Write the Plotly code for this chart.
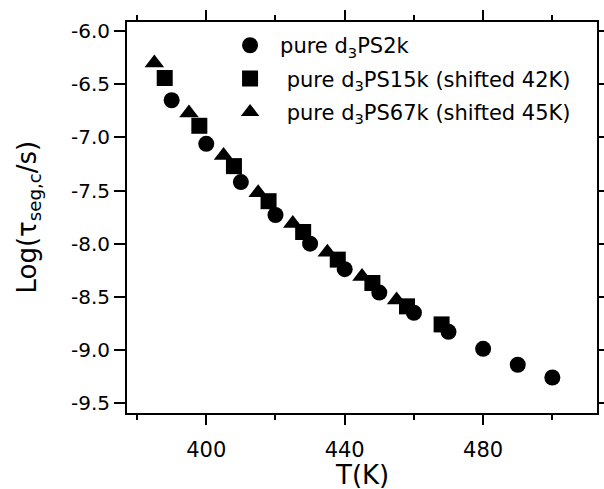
import plotly.graph_objects as go

# --- data ---
T_2k = [390, 400, 410, 420, 430, 440, 450, 460, 470, 480, 490, 500]
log_2k = [-6.65, -7.06, -7.42, -7.73, -8.00, -8.24, -8.46, -8.65, -8.83, -8.99, -9.14, -9.26]

T_15k = [388, 398, 408, 418, 428, 438, 448, 458, 468]
log_15k = [-6.44, -6.89, -7.27, -7.60, -7.89, -8.15, -8.37, -8.59, -8.76]

T_67k = [385, 395, 405, 415, 425, 435, 445, 455]
log_67k = [-6.30, -6.77, -7.17, -7.52, -7.81, -8.08, -8.31, -8.53]

names = ["pure d<sub>3</sub>PS2k",
         "\u00a0pure d<sub>3</sub>PS15k (shifted 42K)",
         "\u00a0pure d<sub>3</sub>PS67k (shifted 45K)"]

y_tickvals = [-6.0, -6.5, -7.0, -7.5, -8.0, -8.5, -9.0, -9.5]
y_ticktext = ["-6.0", "-6.5", "-7.0", "-7.5", "-8.0", "-8.5", "-9.0", "-9.5"]
x_tickvals = [400, 440, 480]
x_ticktext = ["400", "440", "480"]

FONT = "DejaVu Sans"

fig = go.Figure()
fig.add_trace(go.Scatter(x=T_67k, y=log_67k, mode="markers", name=names[2], legendrank=3,
                         legendgroup="c",
                         marker=dict(symbol="triangle-up", size=17, color="black")))
fig.add_trace(go.Scatter(x=T_15k, y=log_15k, mode="markers", name=names[1], legendrank=2,
                         legendgroup="b",
                         marker=dict(symbol="square", size=16, color="black")))
fig.add_trace(go.Scatter(x=T_2k, y=log_2k, mode="markers", name=names[0], legendrank=1,
                         legendgroup="a",
                         marker=dict(symbol="circle", size=16, color="black")))

fig.update_layout(
    width=604, height=489, autosize=False,
    margin=dict(l=127, r=7, t=22, b=76, autoexpand=False),
    plot_bgcolor="white", paper_bgcolor="white",
    font=dict(family=FONT, color="black"),
    showlegend=True,
    legend=dict(x=0.198, y=0.992, xanchor="left", yanchor="top",
                bgcolor="rgba(0,0,0,0)", font=dict(size=21, family=FONT),
                itemwidth=50, tracegroupgap=3),
    xaxis=dict(range=[377.1, 512.9], showgrid=False, zeroline=False, automargin=False,
               showline=True, linewidth=2, linecolor="black", mirror="ticks",
               ticks="outside", ticklen=10, tickwidth=2, tickcolor="black",
               tickvals=x_tickvals, ticktext=x_ticktext, ticklabelstandoff=7,
               tickfont=dict(size=21, family=FONT),
               minor=dict(dtick=20, tick0=0, ticks="outside", ticklen=5, tickwidth=2,
                          tickcolor="black", showgrid=False)),
    yaxis=dict(range=[-9.594, -5.913], showgrid=False, zeroline=False, automargin=False,
               showline=True, linewidth=2, linecolor="black", mirror="ticks",
               ticks="outside", ticklen=11, tickwidth=2, tickcolor="black",
               tickvals=y_tickvals, ticktext=y_ticktext,
               tickfont=dict(size=20, family=FONT)),
    annotations=[
        dict(text="T(K)", xref="paper", yref="paper", x=0.5, y=0, yshift=-62,
             xanchor="center", yanchor="middle", showarrow=False,
             font=dict(size=26, family=FONT)),
        dict(text="Log(τ<sub>seg,c</sub>/s)", xref="paper", yref="paper", x=0, y=0.5,
             xshift=-99, xanchor="center", yanchor="middle", textangle=-90,
             showarrow=False, font=dict(size=26, family=FONT)),
    ],
)

post = ("document.body.style.margin='0px';document.body.style.overflow='hidden';"
        "var gd=document.getElementById('{plot_id}');"
        "Plotly.relayout(gd,{width:604,height:489});")

fig.write_html("out.html", config={"displayModeBar": False, "responsive": False},
               post_script=post)
